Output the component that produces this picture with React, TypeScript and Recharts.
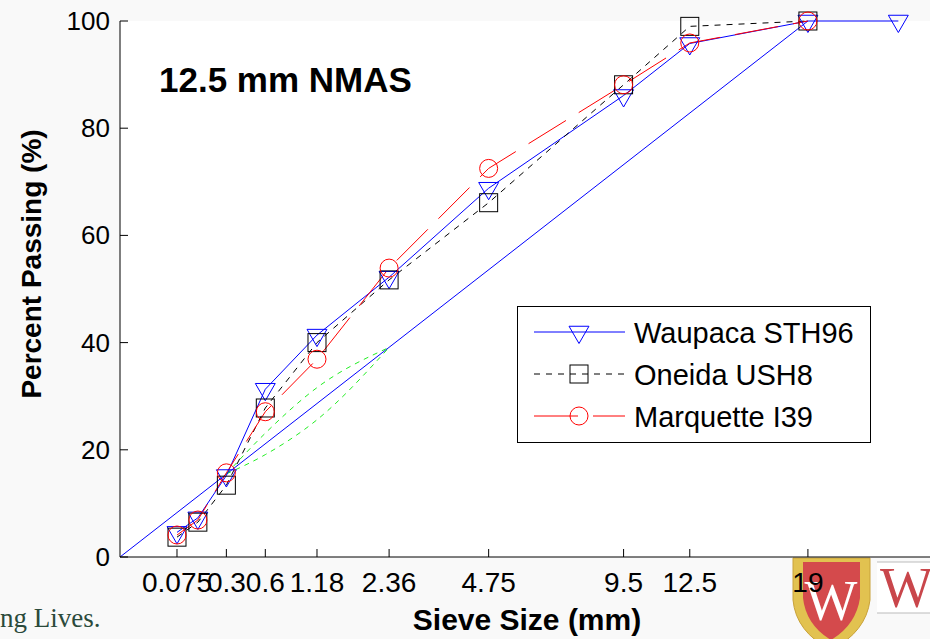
import { LineChart, Line, XAxis, YAxis } from 'recharts';

// sieve sizes (mm) and percent passing
const sieveSizes = [0.075, 0.15, 0.3, 0.6, 1.18, 2.36, 4.75, 9.5, 12.5, 19, 25];
const waupacaSTH96 = [4.6, 7.3, 15.2, 31.3, 41.4, 52.2, 68.8, 86.1, 95.8, 100, 100];
const oneidaUSH8 = [3.7, 6.5, 13.4, 27.8, 40.0, 51.7, 66.1, 88.1, 99.0, 100];
const marquetteI39 = [4.1, 6.9, 15.7, 27.1, 36.9, 53.9, 72.5, 88.1, 95.9, 100];

// maximum density line and restricted zone
const maxDensitySizes = [0, 19];
const maxDensityPassing = [0, 100];
const zoneSizes = [0.3, 0.6, 1.18, 2.36];
const zoneLower = [15.5, 19.1, 25.6, 39.1];
const zoneUpper = [15.5, 23.1, 31.6, 39.1];

const tickSizes = [0.075, 0.3, 0.6, 1.18, 2.36, 4.75, 9.5, 12.5, 19];
const tickLabels = ['0.075', '0.3', '0.6', '1.18', '2.36', '4.75', '9.5', '12.5', '19'];
const yTicks = [0, 20, 40, 60, 80, 100];

const POWER = 0.45;
const toX = (s: number) => Math.pow(s, POWER);
const build = (sizes: number[], vals: number[]) => vals.map((v, i) => ({ x: toX(sizes[i]), y: v }));

const FONT = '"Liberation Sans", Arial, sans-serif';
const xTickPos = tickSizes.map(toX);

const labelFor = (v: number) => {
  const i = xTickPos.findIndex((t) => Math.abs(t - v) < 1e-6);
  return i >= 0 ? tickLabels[i] : '';
};

const BottomTick = (props: any) => {
  const { x, y, payload } = props;
  return (
    <g>
      <line x1={x} y1={y} x2={x} y2={y - 8} stroke="#000" />
      <text x={x} y={y + 35} textAnchor="middle" fontSize={28} fontFamily={FONT} fill="#000">
        {labelFor(payload.value)}
      </text>
    </g>
  );
};

const TopTick = (props: any) => {
  const { x, y } = props;
  return <line x1={x} y1={y} x2={x} y2={y + 7} stroke="#000" />;
};

const LeftTick = (props: any) => {
  const { x, y, payload } = props;
  return (
    <g>
      <line x1={x} y1={y} x2={x + 8} y2={y} stroke="#000" />
      <text x={x - 10} y={y + 9} textAnchor="end" fontSize={26} fontFamily={FONT} fill="#000">
        {payload.value}
      </text>
    </g>
  );
};

const triangle = (cx: number, cy: number, color: string, key?: any) => {
  const r = 11.5;
  const pts = `${cx - 0.866 * r},${cy - r / 2} ${cx + 0.866 * r},${cy - r / 2} ${cx},${cy + r}`;
  return <polygon key={key} points={pts} fill="none" stroke={color} strokeWidth={1} />;
};
const square = (cx: number, cy: number, color: string, key?: any) => (
  <rect key={key} x={cx - 9} y={cy - 9} width={18} height={18} fill="none" stroke={color} strokeWidth={1} />
);
const circle = (cx: number, cy: number, color: string, key?: any) => (
  <circle key={key} cx={cx} cy={cy} r={9} fill="none" stroke={color} strokeWidth={1} />
);

const legendItems = [
  { name: 'Waupaca STH96', color: '#0000ff', dash: undefined, marker: triangle },
  { name: 'Oneida USH8', color: '#000000', dash: '6 6', marker: square },
  { name: 'Marquette I39', color: '#ff0000', dash: '44 15', marker: circle },
];

export default function App() {
  const waupaca = build(sieveSizes, waupacaSTH96);
  const oneida = build(sieveSizes, oneidaUSH8);
  const marquette = build(sieveSizes, marquetteI39);
  const maxDensity = build(maxDensitySizes, maxDensityPassing);
  const lower = build(zoneSizes, zoneLower);
  const upper = build(zoneSizes, zoneUpper);
  const domainMax = 840 / 182.85;

  return (
    <div style={{ position: 'fixed', left: 0, top: 0, width: 930, height: 639, overflow: 'hidden', background: '#f9f9f9' }}>
      {/* slide background bits */}
      <svg width={930} height={639} style={{ position: 'absolute', left: 0, top: 0 }}>
        <rect x={120} y={21} width={810} height={536} fill="#fff" />
        <text x={0} y={627} fontSize={27} fontFamily='"Liberation Serif", serif' fill="#2b4a3b">ng Lives.</text>
        <path d="M793,558 L870,558 L870,600 Q866,632 831,650 Q796,632 793,600 Z" fill="#e2c250" stroke="#c9a23a" />
        <path d="M803,562 L860,562 L860,598 Q856,625 831,640 Q806,625 803,598 Z" fill="#d44a4c" />
        <text x={831} y={620} textAnchor="middle" fontSize={56} fontFamily='"Liberation Serif", serif' fill="#fff">W</text>
        <rect x={877} y={562} width={60} height={51} fill="#fff" />
        <line x1={877} y1={562} x2={930} y2={562} stroke="#bbb" />
        <line x1={877} y1={613} x2={930} y2={613} stroke="#bbb" />
        <text x={880} y={607} fontSize={56} fontFamily='"Liberation Serif", serif' fill="#c9464b">W</text>
      </svg>

      <div style={{ position: 'absolute', left: 0, top: 0 }}>
        <LineChart width={960} height={639} margin={{ top: 21, right: 0, bottom: 0, left: 0 }}>
          <XAxis
            type="number"
            dataKey="x"
            domain={[0, domainMax]}
            ticks={xTickPos}
            interval={0}
            height={82}
            tickSize={0}
            tickMargin={0}
            tickLine={false}
            axisLine={{ stroke: '#000' }}
            tick={<BottomTick />}
            allowDataOverflow
            label={{
              content: () => (
                <text x={527} y={630} textAnchor="middle" fontSize={30} fontWeight="bold" fontFamily={FONT} fill="#000">
                  Sieve Size (mm)
                </text>
              ),
            }}
          />
          <XAxis
            xAxisId="top"
            orientation="top"
            type="number"
            dataKey="x"
            domain={[0, domainMax]}
            ticks={xTickPos}
            interval={0}
            height={0}
            tickSize={0}
            tickMargin={0}
            tickLine={false}
            axisLine={{ stroke: '#000' }}
            tick={<TopTick />}
            allowDataOverflow
          />
          <YAxis
            type="number"
            dataKey="y"
            domain={[0, 100]}
            ticks={yTicks}
            interval={0}
            width={120}
            tickSize={0}
            tickMargin={0}
            tickLine={false}
            axisLine={{ stroke: '#000' }}
            tick={<LeftTick />}
            label={{
              content: () => (
                <text
                  x={41}
                  y={264}
                  transform="rotate(-90, 41, 264)"
                  textAnchor="middle"
                  fontSize={28}
                  fontWeight="bold"
                  fontFamily={FONT}
                  fill="#000"
                >
                  Percent Passing (%)
                </text>
              ),
            }}
          />
          <Line data={maxDensity} dataKey="y" type="linear" stroke="#0000ff" strokeWidth={1} dot={false} activeDot={false} isAnimationActive={false} />
          <Line data={lower} dataKey="y" type="monotone" stroke="#22ee22" strokeWidth={1} strokeDasharray="5 5" dot={false} activeDot={false} isAnimationActive={false} />
          <Line data={upper} dataKey="y" type="monotone" stroke="#22ee22" strokeWidth={1} strokeDasharray="5 5" dot={false} activeDot={false} isAnimationActive={false} />
          <Line
            data={waupaca}
            dataKey="y"
            type="linear"
            stroke="#0000ff"
            strokeWidth={1}
            dot={(p: any) => triangle(p.cx, p.cy, '#0000ff', `w${p.index}`)}
            activeDot={false}
            isAnimationActive={false}
          />
          <Line
            data={oneida}
            dataKey="y"
            type="linear"
            stroke="#000000"
            strokeWidth={1}
            strokeDasharray="6 6"
            dot={(p: any) => square(p.cx, p.cy, '#000000', `o${p.index}`)}
            activeDot={false}
            isAnimationActive={false}
          />
          <Line
            data={marquette}
            dataKey="y"
            type="linear"
            stroke="#ff0000"
            strokeWidth={1}
            strokeDasharray="44 15"
            dot={(p: any) => circle(p.cx, p.cy, '#ff0000', `m${p.index}`)}
            activeDot={false}
            isAnimationActive={false}
          />
        </LineChart>
      </div>

      {/* title and legend */}
      <svg width={930} height={639} style={{ position: 'absolute', left: 0, top: 0, pointerEvents: 'none' }}>
        <text x={159} y={92} fontSize={35} fontWeight="bold" fontFamily={FONT} fill="#000">12.5 mm NMAS</text>
        <rect x={517.5} y={306.5} width={353} height={136} fill="#fff" stroke="#000" />
        {legendItems.map((it, i) => {
          const ly = 332 + i * 42;
          return (
            <g key={it.name}>
              <line x1={534} y1={ly} x2={625} y2={ly} stroke={it.color} strokeDasharray={it.dash} />
              {it.marker(579, ly, it.color)}
              <text x={634} y={ly + 11} fontSize={29} fontFamily={FONT} fill="#000">{it.name}</text>
            </g>
          );
        })}
      </svg>
    </div>
  );
}
